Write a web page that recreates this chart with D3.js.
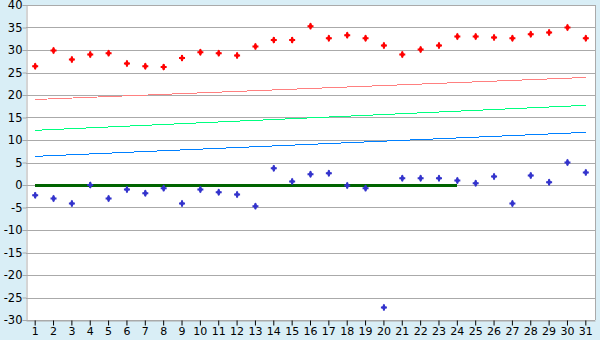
<!DOCTYPE html>
<meta charset="utf-8">
<head>
    <title></title>
    <script src="https://cdn.jsdelivr.net/npm/d3@7/dist/d3.min.js"></script>
</head>
<style>
    body{ margin:0; background:#d9eef6; }
    text{ font-family: "DejaVu Sans", Verdana, sans-serif; fill:#000; }
</style>
<svg width="600" height="340"></svg>
<script>
    var days = d3.range(1, 32),
        yTicks = d3.range(-30, 41, 5),
        redPoints = [26.4,29.9,27.9,29.0,29.3,27.0,26.4,26.2,28.2,29.5,29.3,28.8,30.8,32.2,32.2,35.3,
                     32.6,33.3,32.6,31.0,29.0,30.1,31.0,33.0,33.0,32.8,32.6,33.5,33.9,35.0,32.6],
        bluePoints = [-2.3,-3.0,-4.1,0.0,-3.0,-1.0,-1.85,-0.7,-4.1,-1.0,-1.6,-2.1,-4.7,3.7,0.8,2.4,
                      2.6,-0.1,-0.7,-27.2,1.5,1.5,1.5,1.0,0.4,1.9,-4.1,2.1,0.6,5.0,2.8],
        redTrend = [[1,19.0],[31,23.9]],
        greenTrend = [[1,12.15],[31,17.7]],
        blueTrend = [[1,6.37],[31,11.7]],
        zeroLine = [[1,0],[24,0]];

    var width = 600, height = 340,
        margin = {left:26, right:5, top:5, bottom:20};

    var svg = d3.select('svg');

    var x = d3.scaleBand().domain(days).range([margin.left, width - margin.right]).padding(0),
        y = d3.scaleLinear().domain([-30, 40]).range([height - margin.bottom, margin.top]);
    var cx = function(d){ return x(d) + x.bandwidth()/2; };

    // plot area
    svg.append('rect')
        .attr('x', margin.left).attr('y', margin.top)
        .attr('width', width - margin.left - margin.right)
        .attr('height', height - margin.top - margin.bottom)
        .style('fill', '#fff');

    // grid
    svg.append('g').selectAll('line').data(yTicks).enter().append('line')
        .attr('x1', margin.left).attr('x2', width - margin.right)
        .attr('y1', function(d){ return Math.round(y(d)) + 0.5; })
        .attr('y2', function(d){ return Math.round(y(d)) + 0.5; })
        .style('stroke', '#aaa').style('shape-rendering', 'crispEdges');

    // right border
    svg.append('line')
        .attr('x1', width - margin.right + 0.5).attr('x2', width - margin.right + 0.5)
        .attr('y1', margin.top).attr('y2', height - margin.bottom)
        .style('stroke', '#aaa').style('shape-rendering', 'crispEdges');

    // y axis (plain hyphen for negatives, like the original)
    var yAxis = svg.append('g')
        .attr('transform', 'translate(' + (margin.left + 0.5) + ',0)')
        .call(d3.axisLeft(y).tickValues(yTicks).tickSize(4).tickSizeOuter(0)
            .tickFormat(function(d){ return String(d); }));
    yAxis.select('.domain').style('stroke', '#aaa');
    yAxis.selectAll('.tick line').style('stroke', '#aaa');
    yAxis.selectAll('text').style('font-size', '11.5px').attr('x', -4)
        .style('font-family', '"DejaVu Sans", sans-serif');

    // x axis
    var xAxis = svg.append('g')
        .attr('transform', 'translate(0,' + (height - margin.bottom + 0.5) + ')')
        .call(d3.axisBottom(x).tickSize(5).tickSizeOuter(0));
    xAxis.select('.domain').style('stroke', '#aaa');
    xAxis.selectAll('.tick line').style('stroke', '#000');
    xAxis.selectAll('text').style('font-size', '11px').attr('y', 7)
        .style('font-family', '"DejaVu Sans", sans-serif');

    // trend lines
    var line = d3.line().x(function(d){ return cx(d[0]); }).y(function(d){ return y(d[1]); });
    [[redTrend,'#ff8080',1],[greenTrend,'#00ff80',1],[blueTrend,'#0080ff',1],[zeroLine,'#006400',3]]
        .forEach(function(s){
            svg.append('path').datum(s[0]).attr('d', line)
                .style('fill', 'none').style('stroke', s[1]).style('stroke-width', s[2])
                .style('shape-rendering', 'crispEdges');
        });

    // markers: small plus with a filled diamond centre
    var cross = d3.symbol().type(d3.symbolCross).size(20),
        diamond = d3.symbol().type(d3.symbolDiamond).size(16);
    function drawPoints(vals, color){
        var g = svg.append('g').selectAll('g').data(vals).enter().append('g')
            .attr('transform', function(d, i){ return 'translate(' + cx(days[i]) + ',' + y(d) + ')'; })
            .style('fill', color);
        g.append('path').attr('d', cross);
        g.append('path').attr('d', diamond);
    }
    drawPoints(redPoints, '#ff0000');
    drawPoints(bluePoints, '#3333cc');
</script>
